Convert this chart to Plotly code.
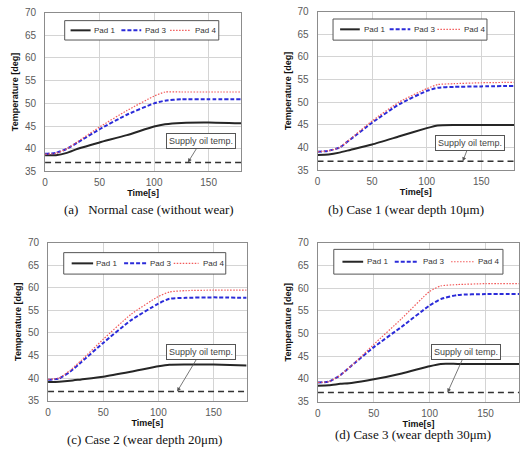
import plotly.graph_objects as go

# ---------------- data ----------------
time_s = [0, 10, 20, 30, 50, 75, 100, 110, 125, 150, 180]

a_pad1 = [38.6, 38.6, 39.1, 40.0, 41.4, 43.0, 44.9, 45.4, 45.7, 45.8, 45.6]
a_pad3 = [38.9, 39.1, 40.0, 41.4, 44.3, 47.5, 50.0, 50.6, 50.9, 50.9, 50.9]
a_pad4 = [38.8, 39.0, 40.0, 41.6, 44.8, 48.4, 51.6, 52.5, 52.5, 52.5, 52.5]

b_pad1 = [38.4, 38.5, 38.9, 39.5, 40.7, 42.5, 44.3, 44.9, 45.0, 45.0, 45.0]
b_pad3 = [39.1, 39.3, 40.0, 41.8, 45.5, 49.6, 52.5, 53.2, 53.4, 53.5, 53.6]
b_pad4 = [39.1, 39.3, 40.0, 41.9, 45.9, 50.1, 53.0, 53.9, 54.1, 54.3, 54.4]

c_pad1 = [39.1, 39.2, 39.4, 39.7, 40.3, 41.4, 42.6, 42.95, 43.0, 43.0, 42.8]
c_pad3 = [39.6, 39.9, 41.4, 43.5, 47.8, 52.8, 56.5, 57.6, 57.8, 57.9, 57.8]
c_pad4 = [39.7, 40.0, 41.7, 43.9, 48.6, 54.1, 58.1, 59.1, 59.4, 59.5, 59.5]

d_pad1 = [38.5, 38.6, 38.9, 39.1, 39.9, 41.2, 42.8, 43.3, 43.3, 43.3, 43.3]
d_pad3 = [39.2, 39.4, 40.8, 42.9, 47.0, 51.5, 56.2, 57.6, 58.5, 58.7, 58.7]
d_pad4 = [39.2, 39.4, 40.8, 42.9, 47.6, 53.3, 59.3, 60.5, 60.8, 61.0, 61.0]

supply_t = [0, 180]
supply_temp = [37.0, 37.0]

series_names = ["Pad 1", "Pad 3", "Pad 4"]
captions = [
    "(a)\u00a0\u00a0\u00a0Normal case (without wear)",
    "(b) Case 1 (wear depth 10\u03bcm)",
    "(c) Case 2 (wear depth 20\u03bcm)",
    "(d) Case 3 (wear depth 30\u03bcm)",
]
x_ticks = [0, 50, 100, 150]
y_ticks = [35, 40, 45, 50, 55, 60, 65, 70]
arrow_tip_t = [131, 133, 117, 116]

panels = [
    (a_pad1, a_pad3, a_pad4),
    (b_pad1, b_pad3, b_pad4),
    (c_pad1, c_pad3, c_pad4),
    (d_pad1, d_pad3, d_pad4),
]

# ---------------- layout geometry ----------------
W, H = 529, 453
# plot areas in pixels: (left, right, top, bottom)
areas = [
    (42.3, 239.7, 6.7, 170.0),
    (316.3, 514.0, 5.7, 168.8),
    (45.3, 245.0, 243.3, 405.3),
    (316.7, 519.0, 243.3, 406.3),
]
# legend layout per panel (domain units): box x0,x1,y0,y1 ; line starts/ends ; text starts ; y
legend_geo = [
    dict(box=(0.10, 0.885, 0.827, 0.949), lines=[(0.13, 0.232), (0.389, 0.49), (0.637, 0.743)],
         texts=[0.241, 0.50, 0.753], y=0.888),
    dict(box=(0.079, 0.862, 0.82, 0.953), lines=[(0.115, 0.215), (0.367, 0.472), (0.61, 0.729)],
         texts=[0.224, 0.482, 0.737], y=0.888),
    dict(box=(0.079, 0.895, 0.802, 0.938), lines=[(0.119, 0.227), (0.383, 0.499), (0.633, 0.758)],
         texts=[0.232, 0.503, 0.77], y=0.870),
    dict(box=(0.079, 0.92, 0.803, 0.959), lines=[(0.122, 0.225), (0.382, 0.50), (0.662, 0.778)],
         texts=[0.234, 0.514, 0.786], y=0.881),
]
# supply-box center offsets from arrow tip, pixels
arrow_off = [(13, -21), (7, -18), (24, -40), (18, -40)]
caption_pos = [(147, 209), (405, 209), (142, 445), (412, 440)]

line_styles = [
    dict(color="#262626", width=2.0, dash="solid"),
    dict(color="#2b2bd9", width=2.0, dash="4px,2px"),
    dict(color="#f25a5a", width=1.2, dash="1.5px,1.5px"),
]

fig = go.Figure()
shapes = []
annotations = []
SANS = "Liberation Sans, Arial, sans-serif"
SERIF = "Liberation Serif, Times New Roman, serif"

for i, (series, (l, r, t, b)) in enumerate(zip(panels, areas)):
    n = "" if i == 0 else str(i + 1)
    xa, ya = "x" + n, "y" + n
    for name, vals, st in zip(series_names, series, line_styles):
        fig.add_trace(go.Scatter(
            x=time_s, y=vals, mode="lines", name=name, showlegend=False,
            line=dict(color=st["color"], width=st["width"], dash=st["dash"],
                      shape="spline", smoothing=0.5),
            xaxis=xa, yaxis=ya))
    fig.add_trace(go.Scatter(
        x=supply_t, y=supply_temp, mode="lines", name="Supply oil temp.", showlegend=False,
        line=dict(color="#333333", width=1.5, dash="6px,4px"), xaxis=xa, yaxis=ya))

    axis_common = dict(showgrid=True, gridcolor="#d4d4d4", gridwidth=1,
                       showline=True, linecolor="#8c8c8c", linewidth=1, mirror=True,
                       zeroline=False, ticks="",
                       tickfont=dict(family=SANS, size=10, color="#5a5a5a"))
    fig.layout["xaxis" + n] = dict(
        axis_common, domain=[l / W, r / W], range=[0, 180], tickvals=x_ticks,
        anchor=ya, ticklabelstandoff=2,
        title=dict(text="<b>Time[s]</b>", font=dict(family=SANS, size=9, color="#111"), standoff=1))
    fig.layout["yaxis" + n] = dict(
        axis_common, domain=[1 - b / H, 1 - t / H], range=[35, 70], tickvals=y_ticks,
        anchor=xa, ticklabelstandoff=6,
        title=dict(text="<b>Temperature [deg]</b>", font=dict(family=SANS, size=9, color="#111"),
                   standoff=4))

    # manual legend
    g = legend_geo[i]
    bx0, bx1, by0, by1 = g["box"]
    shapes.append(dict(type="rect", xref=xa + " domain", yref=ya + " domain",
                       x0=bx0, x1=bx1, y0=by0, y1=by1,
                       line=dict(color="#555555", width=1), fillcolor="white", layer="above"))
    for (lx0, lx1), tx, name, st in zip(g["lines"], g["texts"], series_names, line_styles):
        shapes.append(dict(type="line", xref=xa + " domain", yref=ya + " domain",
                           x0=lx0, x1=lx1, y0=g["y"], y1=g["y"],
                           line=dict(color=st["color"], width=st["width"], dash=st["dash"]),
                           layer="above"))
        annotations.append(dict(text=name, xref=xa + " domain", yref=ya + " domain",
                                x=tx, y=g["y"], xanchor="left", yanchor="middle", showarrow=False,
                                font=dict(family=SANS, size=8, color="#333")))

    # supply oil temp. label with arrow
    axo, ayo = arrow_off[i]
    annotations.append(dict(text="Supply oil temp.", x=arrow_tip_t[i], y=supply_temp[0],
                            xref=xa, yref=ya, showarrow=True, ax=axo, ay=ayo,
                            arrowhead=2, arrowsize=1, arrowwidth=0.8, arrowcolor="#555",
                            bordercolor="#555", borderwidth=1, borderpad=2, bgcolor="white",
                            font=dict(family=SANS, size=9, color="#444")))

    cx, cy = caption_pos[i]
    annotations.append(dict(text=captions[i], xref="paper", yref="paper",
                            x=cx / W, y=1 - cy / H, xanchor="center", yanchor="middle",
                            showarrow=False, font=dict(family=SERIF, size=13, color="#111")))

fig.update_layout(
    width=W, height=H, margin=dict(l=0, r=0, t=0, b=0),
    paper_bgcolor="white", plot_bgcolor="white",
    shapes=shapes, annotations=annotations, showlegend=False,
)

fig.write_html("out.html")
